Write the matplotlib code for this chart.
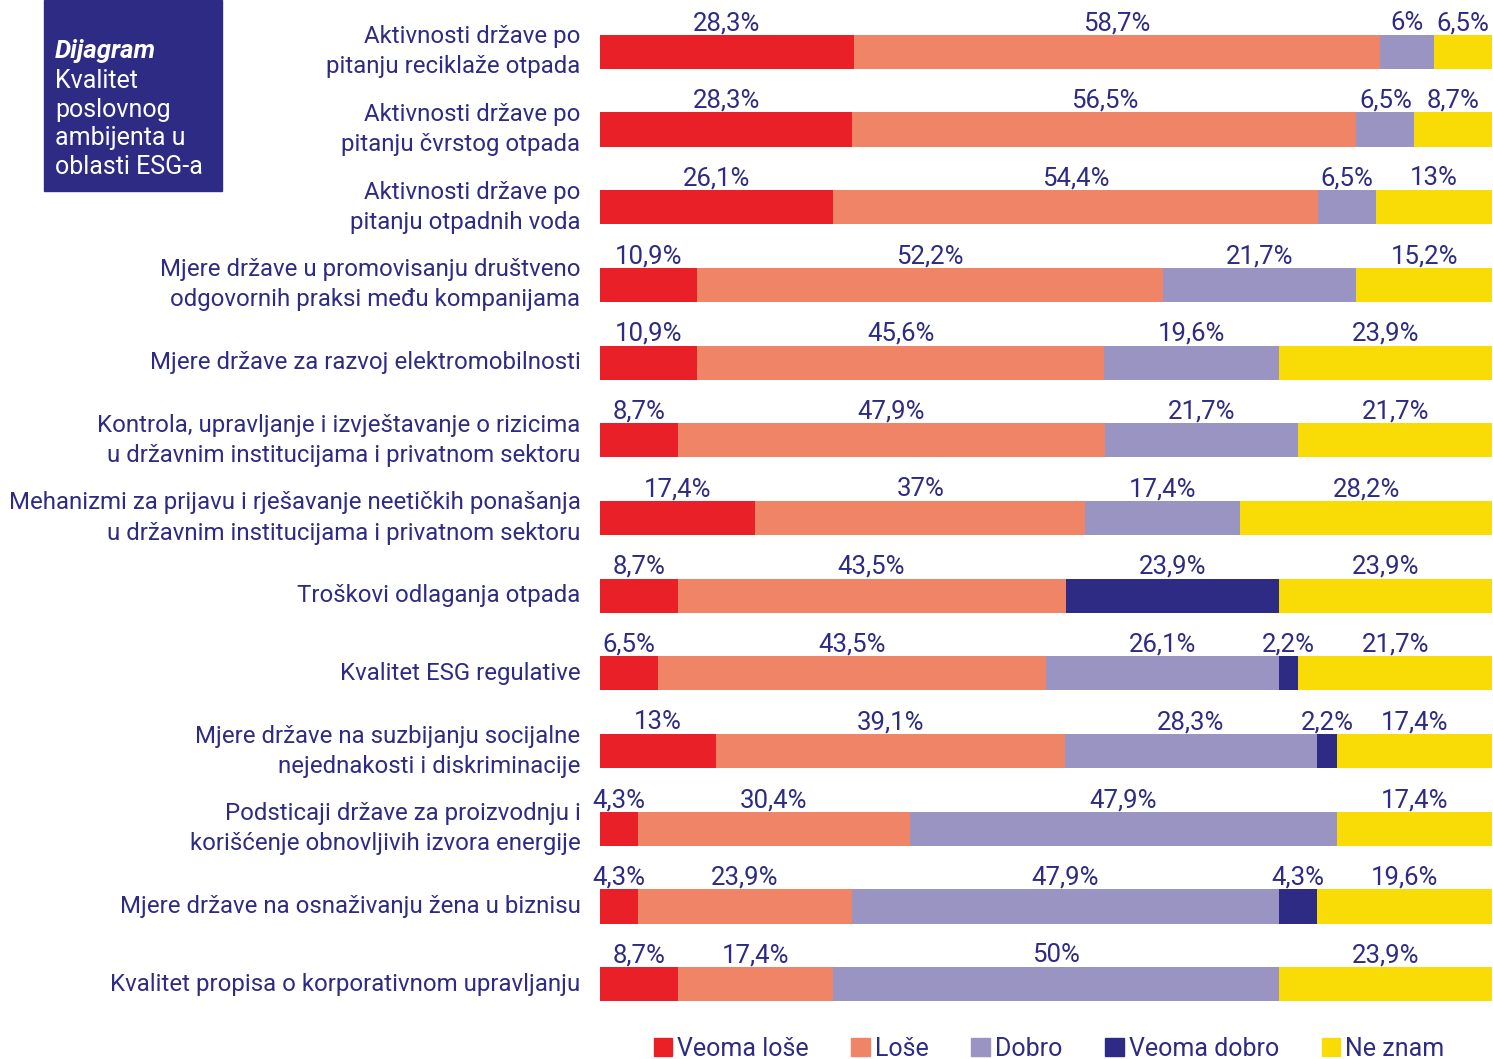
import numpy as np
import matplotlib.pyplot as plt
from matplotlib.patches import Patch, Rectangle

plt.rcParams['font.family'] = ['Roboto', 'DejaVu Sans']

# podaci
kategorije = [
    'Aktivnosti države po\npitanju reciklaže otpada',
    'Aktivnosti države po\npitanju čvrstog otpada',
    'Aktivnosti države po\npitanju otpadnih voda',
    'Mjere države u promovisanju društveno\nodgovornih praksi među kompanijama',
    'Mjere države za razvoj elektromobilnosti',
    'Kontrola, upravljanje i izvještavanje o rizicima\nu državnim institucijama i privatnom sektoru',
    'Mehanizmi za prijavu i rješavanje neetičkih ponašanja\nu državnim institucijama i privatnom sektoru',
    'Troškovi odlaganja otpada',
    'Kvalitet ESG regulative',
    'Mjere države na suzbijanju socijalne\nnejednakosti i diskriminacije',
    'Podsticaji države za proizvodnju i\nkorišćenje obnovljivih izvora energije',
    'Mjere države na osnaživanju žena u biznisu',
    'Kvalitet propisa o korporativnom upravljanju',
]
serije = ['Veoma loše', 'Loše', 'Dobro', 'Veoma dobro', 'Ne znam']
veoma_lose = [28.3, 28.3, 26.1, 10.9, 10.9, 8.7, 17.4, 8.7, 6.5, 13, 4.3, 4.3, 8.7]
lose = [58.7, 56.5, 54.4, 52.2, 45.6, 47.9, 37, 43.5, 43.5, 39.1, 30.4, 23.9, 17.4]
dobro = [6, 6.5, 6.5, 21.7, 19.6, 21.7, 17.4, 0, 26.1, 28.3, 47.9, 47.9, 50]
veoma_dobro = [0, 0, 0, 0, 0, 0, 0, 23.9, 2.2, 2.2, 0, 4.3, 0]
ne_znam = [6.5, 8.7, 13, 15.2, 23.9, 21.7, 28.2, 23.9, 21.7, 17.4, 17.4, 19.6, 23.9]

boje = ['#E92027', '#F08467', '#9A94C2', '#2E2B84', '#F9DB05']
tekst = '#2E2B84'

vrijednosti = np.array([veoma_lose, lose, dobro, veoma_dobro, ne_znam])
udjeli = vrijednosti / vrijednosti.sum(axis=0) * 100


def fmt(v):
    s = ('%.1f' % v).rstrip('0').rstrip('.')
    return s.replace('.', ',') + '%'


fig = plt.figure(figsize=(14.93, 10.59), dpi=100)
W, H = 1493, 1059
ax = fig.add_axes([600 / W, 1 - 1023 / H, 892 / W, 1010 / H])

y = np.arange(len(kategorije))
lijevo = np.zeros(len(kategorije))
for k in range(len(serije)):
    ax.barh(y, udjeli[k], left=lijevo, height=0.44, color=boje[k], linewidth=0)
    for i in range(len(kategorije)):
        if vrijednosti[k, i] > 0:
            ax.text(lijevo[i] + udjeli[k, i] / 2, y[i] - 0.28, fmt(vrijednosti[k, i]),
                    ha='center', va='baseline', fontsize=18.5, color=tekst)
    lijevo += udjeli[k]

for i, kat in enumerate(kategorije):
    ax.text(-0.022, y[i], kat, transform=ax.get_yaxis_transform(),
            ha='right', va='center', fontsize=17.3, color=tekst, linespacing=1.39)

ax.set_xlim(0, 100)
ax.set_ylim(len(kategorije) - 0.5, -0.5)
ax.axis('off')

# naslovni okvir
fig.patches.append(Rectangle((44 / W, 1 - 191 / H), 178 / W, 191 / H,
                             transform=fig.transFigure, color='#2E2B84', zorder=0))
fig.text(55 / W, 1 - 58 / H, 'Dijagram', fontsize=18.5, color='white',
         fontweight='bold', fontstyle='italic', va='baseline')
fig.text(55 / W, 1 - 69 / H, 'Kvalitet\nposlovnog\nambijenta u\noblasti ESG-a',
         fontsize=18, color='white', va='top', linespacing=1.24)

rucke = [Patch(color=b, label=s) for b, s in zip(boje, serije)]
leg = fig.legend(handles=rucke, loc='center', bbox_to_anchor=(1049 / W, 1 - 1049 / H),
                 ncol=5, frameon=False, fontsize=18, handlelength=0.75, handleheight=0.75,
                 handletextpad=0.2, columnspacing=1.7)
for t in leg.get_texts():
    t.set_color(tekst)

fig.savefig('out.png', dpi=100)
